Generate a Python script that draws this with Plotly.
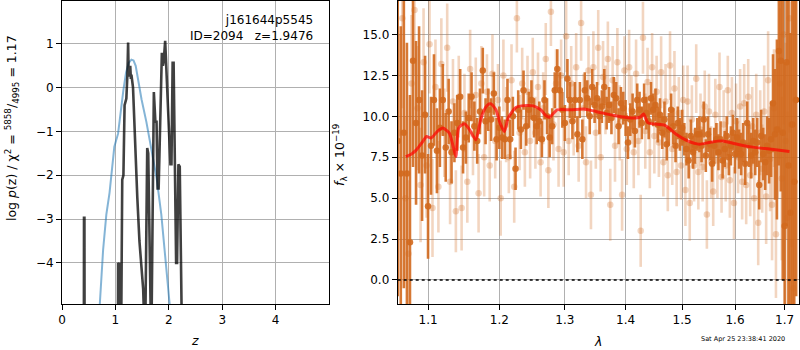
import plotly.graph_objects as go
import math

# ---------------- data: left panel (redshift PDF / chi2) ----------------
z_chi = [0.38, 0.408, 0.412, 0.420, 0.424, 1.045, 1.050, 1.060, 1.072, 1.080, 1.088, 1.100,
         1.128, 1.150, 1.172, 1.190, 1.205, 1.225, 1.238, 1.248, 1.258, 1.268, 1.278, 1.290,
         1.300, 1.330, 1.360, 1.410, 1.450, 1.480, 1.520, 1.555, 1.596, 1.615, 1.640, 1.672,
         1.720, 1.750, 1.770, 1.790, 1.810, 1.870, 1.890, 1.905, 1.932, 1.950, 1.980, 2.010,
         2.030, 2.050, 2.072, 2.090, 2.110, 2.137, 2.155, 2.180, 2.205, 2.230, 2.260, 5.0]
logp_chi = [-7, -7, -2.97, -2.97, -7, -7, -4.0, -4.05, -4.0, -4.1, -7, -7,
            -2.1, -2.0, -0.4, -0.3, -0.25, 0.3, 1.03, 0.3, 0.5, 0.25, 0.5, 0.2,
            0.3, 0.0, -1.0, -2.5, -3.5, -4.0, -4.6, -6.0, -1.38, -1.5, -3.3, -6.0,
            -0.1, -0.8, -0.75, -2.3, -2.3, 0.8, 0.5, 0.6, 1.07, 0.5, -0.3, -1.0,
            -1.75, -1.75, 0.57, 0.57, -1.79, -4.0, -4.0, -1.75, -1.8, -4.0, -7, -7]

z_pz = [0.66, 0.708, 0.77, 0.83, 0.89, 0.98, 1.05, 1.10, 1.15, 1.20, 1.25, 1.30, 1.34,
        1.38, 1.43, 1.49, 1.58, 1.67, 1.77, 1.86, 1.95, 2.02, 2.06]
logp_pz = [-7, -4.94, -3.7, -2.9, -2.4, -1.35, -1.05, -0.5, -0.05, 0.35, 0.57, 0.64, 0.62,
           0.5, 0.12, -0.27, -0.78, -1.4, -2.05, -2.9, -4.07, -5.0, -7]

z_ticks = [0, 1, 2, 3, 4]
lp_ticks = [-4, -3, -2, -1, 0, 1]

# ---------------- data: right panel (spectrum) ----------------
lam_d = [1.060, 1.064, 1.068, 1.072, 1.076, 1.080, 1.084, 1.088, 1.092, 1.096,
         1.100, 1.104, 1.108, 1.112, 1.116, 1.120, 1.124, 1.128, 1.132, 1.136,
         1.140, 1.144, 1.148, 1.152, 1.156, 1.160, 1.164, 1.168, 1.172, 1.176,
         1.180, 1.184, 1.188, 1.192, 1.196, 1.200, 1.204, 1.208, 1.212, 1.216,
         1.220, 1.224, 1.228, 1.232, 1.236, 1.240, 1.244, 1.248, 1.252, 1.256,
         1.260, 1.264, 1.268, 1.272, 1.276, 1.280, 1.284, 1.288, 1.292, 1.296,
         1.300, 1.304, 1.308, 1.312, 1.316, 1.320, 1.324, 1.328, 1.332, 1.336,
         1.340, 1.344, 1.348, 1.352, 1.356, 1.360, 1.364, 1.368, 1.372, 1.376,
         1.380, 1.384, 1.388, 1.392, 1.396, 1.400, 1.404, 1.408, 1.412, 1.416,
         1.420, 1.424, 1.428, 1.432, 1.436, 1.440, 1.444, 1.448, 1.452, 1.456,
         1.460, 1.464, 1.468, 1.472, 1.476, 1.480, 1.484, 1.488, 1.492, 1.496,
         1.500, 1.504, 1.508, 1.512, 1.516, 1.520, 1.524, 1.528, 1.532, 1.536,
         1.540, 1.544, 1.548, 1.552, 1.556, 1.560, 1.564, 1.568, 1.572, 1.576,
         1.580, 1.584, 1.588, 1.592, 1.596, 1.600, 1.604, 1.608, 1.612, 1.616,
         1.620, 1.624, 1.628, 1.632, 1.636, 1.640, 1.644, 1.648, 1.652, 1.656,
         1.660, 1.664, 1.668, 1.672, 1.676, 1.680, 1.684, 1.688, 1.692, 1.696,
         1.700, 1.704, 1.708, 1.712, 1.716, 1.720, 1.724]
flux_d = [8.5, 6.5, 9.0, 6.5, 2.3, 13.4, 9.6, 11.0, 7.6, 10.1,
          4.5, 8.2, 11.0, 7.9, 9.3, 11.0, 8.1, 10.3, 7.8, 9.0,
          9.6, 11.2, 8.1, 8.7, 9.9, 11.2, 9.4, 8.5, 10.3, 12.8,
          9.7, 10.4, 9.8, 11.4, 8.6, 9.3, 8.7, 8.6, 11.0, 8.6,
          10.0, 6.8, 10.4, 9.2, 11.6, 9.4, 10.4, 11.0, 9.9, 9.4,
          9.7, 8.6, 11.0, 10.0, 8.7, 9.4, 11.6, 12.9, 11.6, 10.4,
          9.6, 12.3, 11.0, 9.7, 11.0, 8.9, 11.0, 8.6, 11.6, 11.1,
          10.0, 11.8, 10.7, 11.1, 10.0, 10.6, 11.8, 10.2, 10.7, 9.9,
          11.3, 11.1, 9.4, 10.8, 10.5, 9.9, 8.4, 9.8, 10.3, 9.1,
          11.0, 10.4, 9.6, 11.0, 10.2, 9.7, 11.1, 10.4, 10.7, 9.5,
          10.1, 9.0, 9.8, 8.3, 9.2, 10.4, 9.4, 8.2, 9.6, 8.9,
          9.3, 8.6, 8.0, 7.3, 8.8, 7.8, 8.2, 8.9, 8.9, 8.2,
          9.8, 7.6, 8.9, 8.3, 7.1, 8.2, 8.6, 7.8, 8.6, 7.3,
          8.0, 8.8, 7.5, 8.2, 9.0, 7.7, 8.7, 8.0, 7.7, 8.4,
          7.1, 9.6, 8.2, 7.6, 8.5, 7.8, 8.4, 5.8, 8.8, 7.7,
          7.2, 8.2, 7.9, 8.6, 10.8, 8.9, 9.2, 14.0, 13.4, 9.0,
          3.3, 13.3, 7.0, 4.1, 9.5, 6.0, 11.0]
err_d = [9.5, 9.0, 9.5, 8.0, 9.0, 6.5, 5.0, 4.5, 4.0, 3.6,
         3.2, 3.0, 2.8, 2.6, 2.4, 2.2, 2.1, 2.0, 1.9, 1.8,
         1.7, 1.7, 1.6, 1.6, 1.5, 1.5, 1.5, 1.4, 1.4, 1.4,
         1.4, 1.3, 1.3, 1.3, 1.3, 1.3, 1.3, 1.2, 1.3, 1.2,
         1.2, 1.3, 1.2, 1.2, 1.2, 1.2, 1.1, 1.2, 1.2, 1.1,
         1.2, 1.1, 1.2, 1.1, 1.2, 1.1, 1.1, 1.2, 1.1, 1.1,
         1.1, 1.2, 1.1, 1.1, 1.1, 1.1, 1.1, 1.2, 1.1, 1.1,
         1.1, 1.1, 1.1, 1.0, 1.1, 1.0, 1.1, 1.0, 1.1, 1.0,
         1.1, 1.0, 1.1, 1.0, 1.0, 1.1, 1.0, 1.0, 1.1, 1.0,
         1.0, 1.1, 1.0, 1.0, 1.0, 1.1, 1.0, 1.0, 1.0, 1.1,
         1.0, 1.0, 1.1, 1.0, 1.0, 1.0, 1.1, 1.0, 1.0, 1.0,
         1.1, 1.0, 1.0, 1.1, 1.0, 1.0, 1.1, 1.0, 1.1, 1.0,
         1.1, 1.0, 1.1, 1.0, 1.1, 1.1, 1.0, 1.1, 1.1, 1.1,
         1.1, 1.2, 1.1, 1.2, 1.1, 1.2, 1.2, 1.2, 1.3, 1.2,
         1.3, 1.3, 1.3, 1.4, 1.4, 1.4, 1.5, 1.5, 1.6, 1.6,
         1.7, 1.8, 2.0, 2.3, 3.0, 4.0, 5.5, 7.0, 8.0, 9.0,
         10.0, 10.0, 11.0, 11.0, 12.0, 12.0, 12.0]

lam_l = [1.062, 1.066, 1.070, 1.074, 1.078, 1.082, 1.086, 1.090, 1.094, 1.098,
         1.102, 1.106, 1.110, 1.114, 1.118, 1.122, 1.126, 1.130, 1.134, 1.138,
         1.142, 1.146, 1.150, 1.154, 1.158, 1.162, 1.166, 1.170, 1.174, 1.178,
         1.182, 1.186, 1.190, 1.194, 1.198, 1.202, 1.206, 1.210, 1.214, 1.218,
         1.222, 1.226, 1.230, 1.234, 1.238, 1.242, 1.246, 1.250, 1.254, 1.258,
         1.262, 1.266, 1.270, 1.274, 1.278, 1.282, 1.286, 1.290, 1.294, 1.298,
         1.302, 1.306, 1.310, 1.314, 1.318, 1.322, 1.326, 1.330, 1.334, 1.338,
         1.342, 1.346, 1.350, 1.354, 1.358, 1.362, 1.366, 1.370, 1.374, 1.378,
         1.382, 1.386, 1.390, 1.394, 1.398, 1.402, 1.406, 1.410, 1.414, 1.418,
         1.422, 1.426, 1.430, 1.434, 1.438, 1.442, 1.446, 1.450, 1.454, 1.458,
         1.462, 1.466, 1.470, 1.474, 1.478, 1.482, 1.486, 1.490, 1.494, 1.498,
         1.502, 1.506, 1.510, 1.514, 1.518, 1.522, 1.526, 1.530, 1.534, 1.538,
         1.542, 1.546, 1.550, 1.554, 1.558, 1.562, 1.566, 1.570, 1.574, 1.578,
         1.582, 1.586, 1.590, 1.594, 1.598, 1.602, 1.606, 1.610, 1.614, 1.618,
         1.622, 1.626, 1.630, 1.634, 1.638, 1.642, 1.646, 1.650, 1.654, 1.658,
         1.662, 1.666, 1.670, 1.674, 1.678, 1.682, 1.686, 1.690, 1.694, 1.698,
         1.702, 1.706, 1.710, 1.714, 1.718, 1.722]
flux_l = [9.0, 16.0, 5.0, 1.6, 12.0, 16.5, 10.5, 5.8, 13.3, 7.0,
          14.4, 4.4, 11.8, 5.7, 13.2, 9.0, 14.2, 6.0, 10.9, 4.2,
          11.2, 4.4, 10.2, 6.0, 12.9, 8.9, 11.3, 5.3, 12.0, 7.5,
          11.5, 7.0, 12.6, 8.5, 11.0, 5.0, 12.5, 9.5, 7.5, 12.2,
          5.7, 16.0, 9.0, 12.0, 7.8, 11.5, 8.5, 12.7, 9.0, 11.8,
          7.2, 10.5, 13.5, 6.7, 16.4, 9.5, 12.0, 8.0, 12.5, 7.8,
          14.9, 8.5, 12.0, 9.8, 13.0, 8.2, 15.7, 10.5, 7.2, 12.8,
          5.2, 13.0, 9.0, 14.2, 7.5, 12.4, 11.0, 13.5, 4.6, 12.2,
          8.2, 13.3, 9.6, 5.2, 12.8, 8.0, 13.0, 10.4, 7.8, 12.6,
          8.5, 3.0, 14.8, 9.1, 12.1, 7.8, 13.0, 8.8, 11.5, 8.4,
          12.7, 7.2, 10.9, 6.4, 13.1, 8.0, 11.7, 6.6, 10.2, 7.0,
          11.0, 5.5, 10.9, 4.7, 9.8, 7.0, 12.3, 6.6, 9.2, 6.9,
          10.6, 4.0, 10.3, 7.2, 5.4, 10.1, 7.3, 11.8, 6.3, 9.5,
          7.0, 11.6, 6.1, 10.2, 4.7, 9.7, 7.5, 10.6, 6.0, 10.8,
          5.8, 11.2, 6.4, 9.4, 5.0, 10.1, 3.5, 9.0, 6.8, 10.3,
          5.1, 12.2, 7.4, 4.6, 10.5, 2.8, 9.2, 12.0, 6.2, 15.0,
          8.5, 3.8, 16.0, 9.5, -0.5, 11.0]
err_l = [6.0, 5.5, 5.0, 4.5, 4.2, 4.0, 3.8, 3.5, 3.3, 3.2,
         3.0, 3.0, 2.9, 2.8, 2.8, 2.7, 2.7, 2.6, 2.6, 2.5,
         2.5, 2.6, 2.4, 2.5, 2.4, 2.5, 2.3, 2.4, 2.3, 2.4,
         2.3, 2.2, 2.4, 2.3, 2.2, 2.3, 2.2, 2.3, 2.2, 2.2,
         2.2, 2.1, 2.3, 2.2, 2.1, 2.2, 2.3, 2.1, 2.2, 2.1,
         2.1, 2.2, 2.2, 2.3, 2.1, 2.2, 2.1, 2.3, 2.2, 2.1,
         2.2, 2.1, 2.3, 2.2, 2.1, 2.2, 2.3, 2.1, 2.2, 2.1,
         2.1, 2.2, 2.2, 2.3, 2.1, 2.2, 2.1, 2.3, 2.2, 2.1,
         2.2, 2.1, 2.3, 2.2, 2.1, 2.2, 2.3, 2.1, 2.2, 2.1,
         2.1, 2.2, 2.2, 2.3, 2.1, 2.2, 2.1, 2.3, 2.2, 2.1,
         2.2, 2.1, 2.3, 2.2, 2.1, 2.2, 2.3, 2.1, 2.2, 2.1,
         2.1, 2.2, 2.2, 2.3, 2.1, 2.2, 2.1, 2.3, 2.2, 2.1,
         2.2, 2.1, 2.3, 2.2, 2.1, 2.2, 2.3, 2.1, 2.2, 2.1,
         2.2, 2.1, 2.3, 2.2, 2.2, 2.3, 2.2, 2.3, 2.3, 2.4,
         2.4, 2.3, 2.5, 2.4, 2.5, 2.5, 2.6, 2.6, 2.7, 2.8,
         2.9, 3.0, 3.2, 3.4, 3.6, 3.9, 4.2, 4.6, 5.0, 5.5,
         6.0, 6.5, 7.0, 7.5, 8.0, 8.5]

lam_m = [1.0705, 1.078, 1.0845, 1.092, 1.098, 1.104, 1.112, 1.120, 1.129, 1.134,
         1.138, 1.142, 1.150, 1.157, 1.166, 1.172, 1.176, 1.183, 1.188, 1.195,
         1.201, 1.2075, 1.213, 1.2175, 1.225, 1.2327, 1.2506, 1.262, 1.270, 1.276,
         1.280, 1.288, 1.31, 1.33, 1.35, 1.38, 1.41, 1.425, 1.431, 1.439,
         1.469, 1.489, 1.51, 1.532, 1.55, 1.575, 1.59, 1.628, 1.669, 1.710]
flux_m = [7.54, 7.7, 7.95, 8.4, 8.77, 8.67, 9.05, 9.28, 8.97, 8.2,
          7.54, 9.3, 9.55, 9.2, 8.56, 9.6, 10.2, 10.7, 10.76, 10.4,
          9.6, 9.07, 9.9, 10.2, 10.55, 10.64, 10.64, 10.4, 10.05, 9.95,
          10.1, 10.4, 10.4, 10.45, 10.3, 10.05, 9.9, 9.95, 10.15, 9.6,
          9.45, 8.9, 8.5, 8.3, 8.4, 8.5, 8.4, 8.15, 8.0, 7.85]

lam_ticks = [1.1, 1.2, 1.3, 1.4, 1.5, 1.6, 1.7]
f_ticks = [0.0, 2.5, 5.0, 7.5, 10.0, 12.5, 15.0]

# ---------------- layout geometry ----------------
W, H = 800, 350
ML, MR, MT, MB = 62, 1, 1, 46
PW, PH = W - ML - MR, H - MT - MB
FONT = "DejaVu Sans"
ORANGE = "210,105,30"

def px(x):
    return (x - ML) / PW

def py(y):
    return 1 - (y - MT) / PH

fig = go.Figure()

fig.add_trace(go.Scatter(x=z_pz, y=logp_pz, mode="lines",
                         line=dict(color="rgba(31,119,180,0.55)", width=2),
                         xaxis="x", yaxis="y", showlegend=False, hoverinfo="skip"))
fig.add_trace(go.Scatter(x=z_chi, y=logp_chi, mode="lines",
                         line=dict(color="rgba(0,0,0,0.75)", width=2.6),
                         xaxis="x", yaxis="y", showlegend=False, hoverinfo="skip"))

fig.add_trace(go.Scatter(x=lam_l, y=flux_l, mode="markers",
                         marker=dict(color=f"rgba({ORANGE},0.28)", size=6.5),
                         error_y=dict(type="data", array=err_l, visible=True,
                                      color=f"rgba({ORANGE},0.28)", thickness=2.6, width=0),
                         xaxis="x2", yaxis="y2", showlegend=False, hoverinfo="skip"))
fig.add_trace(go.Scatter(x=lam_d, y=flux_d, mode="markers",
                         marker=dict(color=f"rgba({ORANGE},0.9)", size=6.5),
                         error_y=dict(type="data", array=err_d, visible=True,
                                      color=f"rgba({ORANGE},0.9)", thickness=2.6, width=0),
                         xaxis="x2", yaxis="y2", showlegend=False, hoverinfo="skip"))
fig.add_trace(go.Scatter(x=lam_m, y=flux_m, mode="lines", line_shape="spline",
                         line=dict(color="rgba(255,0,0,0.7)", width=3, smoothing=0.6),
                         xaxis="x2", yaxis="y2", showlegend=False, hoverinfo="skip"))

axis_common = dict(showgrid=True, gridcolor="#b0b0b0", gridwidth=0.8, zeroline=False,
                   showline=True, mirror=True, linecolor="black", linewidth=1,
                   ticks="outside", ticklen=5, tickcolor="black", tickwidth=0.8,
                   tickfont=dict(family=FONT, size=12, color="black"))

def fmt_minus(v, f="{:g}"):
    s = f.format(v)
    return s.replace("-", "\u2212")

fig.update_layout(
    width=W, height=H,
    margin=dict(l=ML, r=MR, t=MT, b=MB),
    paper_bgcolor="white", plot_bgcolor="white",
    font=dict(family=FONT, size=12, color="black"),
    xaxis=dict(domain=[0, 267 / PW], range=[0, 5], tickvals=z_ticks,
               ticktext=[fmt_minus(v) for v in z_ticks], anchor="y", **axis_common),
    yaxis=dict(domain=[0, 1], range=[-4.94, 1.98], tickvals=lp_ticks,
               ticktext=[fmt_minus(v) for v in lp_ticks], anchor="x", **axis_common),
    xaxis2=dict(domain=[335.7 / PW, 1], type="log",
                range=[math.log10(1.06), math.log10(1.73)], tickvals=lam_ticks,
                ticktext=[f"{v:.1f}" for v in lam_ticks], anchor="y2", **axis_common),
    yaxis2=dict(domain=[0, 1], range=[-1.47, 17.05], tickvals=f_ticks,
                ticktext=[fmt_minus(v, "{:.1f}") for v in f_ticks], anchor="x2", **axis_common),
)

fig.add_shape(type="line", xref="x2 domain", yref="y2", x0=0, x1=1, y0=0, y1=0,
              line=dict(color="black", width=1.6, dash="dot"))

ann = [
    dict(x=px(12), y=py(128), textangle=-90,
         text="log <i>p</i>(z) / χ<sup>2</sup> = <sup>5858</sup>/<sub>4995</sub> = 1.17",
         font=dict(size=12.5)),
    dict(x=px(340), y=py(155), textangle=-90,
         text="<i>f</i><sub>λ</sub> × 10<sup>−19</sup>", font=dict(size=12.5)),
    dict(x=px(195), y=py(340), text="<i>z</i>", font=dict(size=12.5)),
    dict(x=px(598), y=py(341), text="<i>λ</i>", font=dict(size=12.5)),
    dict(x=px(315), y=py(28), xanchor="right", align="right",
         text="j161644p5545<br>ID=2094   z=1.9476", font=dict(size=12)),
    dict(x=px(743), y=py(339), text="Sat Apr 25 23:38:41 2020", font=dict(size=6.5)),
]
for a in ann:
    a.setdefault("xanchor", "center")
    a.setdefault("yanchor", "middle")
    fig.add_annotation(xref="paper", yref="paper", showarrow=False, **a)

fig.write_html("out.html", config={"displayModeBar": False},
               post_script="document.body.style.margin='0';document.body.style.padding='0';")
